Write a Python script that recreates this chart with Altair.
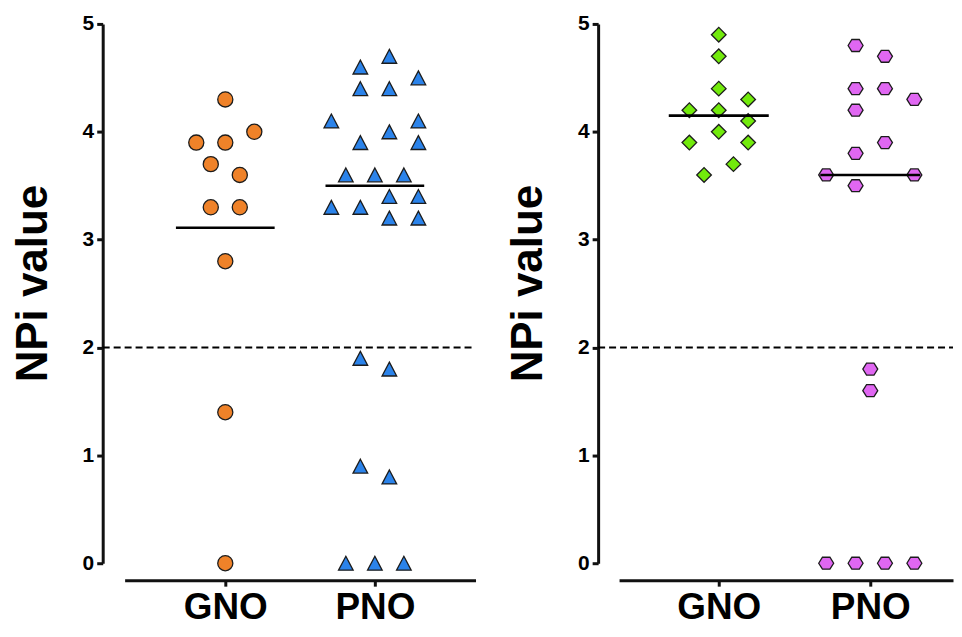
import altair as alt
import pandas as pd

categories = ["GNO", "PNO"]

# Left panel (values and dot-plot column positions)
left_gno_values = [4.3, 4.0, 3.9, 3.9, 3.7, 3.6, 3.3, 3.3, 2.8, 1.4, 0.0]
left_gno_cols = [0, 2, -2, 0, -1, 1, -1, 1, 0, 0, 0]
left_pno_values = [4.7, 4.6, 4.5, 4.4, 4.4, 4.1, 4.1, 4.0, 3.9, 3.9, 3.6, 3.6, 3.6,
                   3.4, 3.4, 3.3, 3.3, 3.2, 3.2, 1.9, 1.8, 0.9, 0.8, 0.0, 0.0, 0.0]
left_pno_cols = [1, -1, 3, -1, 1, -3, 3, 1, -1, 3, -2, 0, 2,
                 1, 3, -3, -1, 1, 3, -1, 1, -1, 1, -2, 0, 2]
left_lines = [3.11, 3.5]

# Right panel
right_gno_values = [4.9, 4.7, 4.4, 4.3, 4.2, 4.2, 4.1, 4.0, 3.9, 3.9, 3.7, 3.6]
right_gno_cols = [0, 0, 0, 2, -2, 0, 2, 0, -2, 2, 1, -1]
right_pno_values = [4.8, 4.7, 4.4, 4.4, 4.3, 4.2, 3.9, 3.8, 3.6, 3.6, 3.5, 1.8, 1.6,
                    0.0, 0.0, 0.0, 0.0]
right_pno_cols = [-1, 1, -1, 1, 3, -1, 1, -1, -3, 3, -1, 0, 0, -3, -1, 1, 3]
right_lines = [4.15, 3.6]

threshold = [2]
y_ticks = [0, 1, 2, 3, 4, 5]
x_ticks = [0, 1]

FONT = "Liberation Sans"
HEX = "M -1 0 L -0.5 -0.8 L 0.5 -0.8 L 1 0 L 0.5 0.8 L -0.5 0.8 Z"
TRI = "M 0 -0.95 L 1 0.95 L -1 0.95 Z"
XOFF = 17


def panel(gno_v, gno_c, pno_v, pno_c, lines, styles, W, H, xdom, yoff):
    df = pd.DataFrame({
        "group": [categories[0]] * len(gno_v) + [categories[1]] * len(pno_v),
        "idx": [0] * len(gno_v) + [1] * len(pno_v),
        "value": gno_v + pno_v,
        "col": gno_c + pno_c,
    })
    xscale = alt.Scale(domain=xdom, nice=False, zero=False)
    yscale = alt.Scale(domain=[0, 5], nice=False, zero=False)
    xaxis = alt.Axis(values=x_ticks, labelExpr="datum.value == 0 ? 'GNO' : 'PNO'",
                     title=None, offset=XOFF, tickSize=6, labelPadding=3,
                     labelFontSize=37, labelFlush=False)
    yaxis = alt.Axis(values=y_ticks, title="NPi value", offset=yoff,
                     tickSize=6, labelFontSize=21, labelPadding=3,
                     titleFontSize=44, titlePadding=27, titleY=260)
    base = alt.Chart(df).transform_calculate(xpos="datum.idx + datum.col * 0.097")
    layers = []
    for g, (shape, color, size) in zip(categories, styles):
        layers.append(
            base.transform_filter(alt.datum.group == g)
            .mark_point(shape=shape, filled=True, fill=color, stroke="#1c1c1c",
                        strokeWidth=1.3, size=size, opacity=1)
            .encode(x=alt.X("xpos:Q", scale=xscale, axis=xaxis),
                    y=alt.Y("value:Q", scale=yscale, axis=yaxis))
        )
    ldf = pd.DataFrame({"idx": x_ticks, "value": lines})
    med = (alt.Chart(ldf)
           .transform_calculate(xpos="datum.idx - 0.33", xend="datum.idx + 0.33")
           .mark_rule(color="black", strokeWidth=2.6)
           .encode(x=alt.X("xpos:Q", scale=xscale, axis=xaxis), x2="xend:Q",
                   y=alt.Y("value:Q", scale=yscale, axis=yaxis)))
    dash = (alt.Chart(pd.DataFrame({"value": threshold}))
            .mark_rule(color="black", strokeWidth=1.8, strokeDash=[7, 4])
            .encode(y=alt.Y("value:Q", scale=yscale, axis=yaxis),
                    x=alt.value(-yoff), x2=alt.value(W)))
    return alt.layer(*layers, med, dash).properties(width=W, height=H)


left = panel(left_gno_values, left_gno_cols, left_pno_values, left_pno_cols, left_lines,
             [("circle", "#EF8229", 230), (TRI, "#2B83EA", 215)],
             352, 541, [-0.673, 1.673], 22)
right = panel(right_gno_values, right_gno_cols, right_pno_values, right_pno_cols, right_lines,
              [("diamond", "#72EA0C", 215), (HEX, "#E067F2", 225)],
              335, 541, [-0.658, 1.546], 21)

chart = (alt.hconcat(left, right, spacing=30)
         .properties(padding={"left": 3, "top": 4, "right": 0, "bottom": 0})
         .configure(background="white")
         .configure_view(stroke=None)
         .configure_axis(grid=False, domain=True, ticks=True,
                         domainColor="#111111", domainWidth=3,
                         tickColor="#111111", tickWidth=3,
                         labelFont=FONT, labelFontWeight="bold", labelColor="black",
                         titleFont=FONT, titleFontWeight="bold", titleColor="black"))

chart.save("out.html", embed_options={"renderer": "svg", "actions": False})
